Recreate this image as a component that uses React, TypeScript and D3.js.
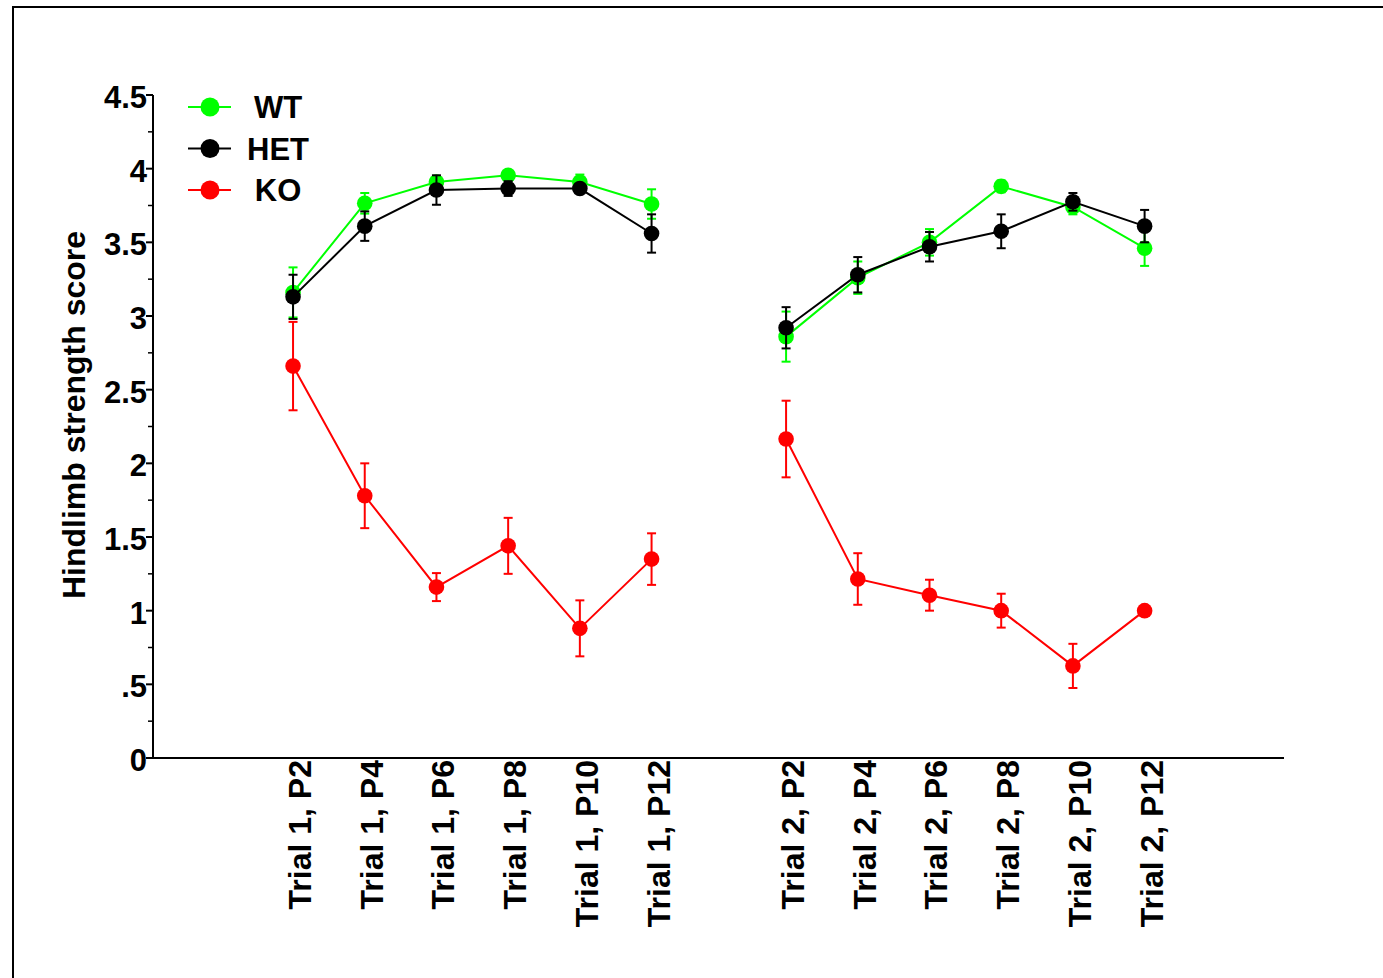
import React, { useEffect, useRef } from 'react';
import * as d3 from 'd3';

// categories along the x axis
const categories: string[] = [
  'Trial 1, P2', 'Trial 1, P4', 'Trial 1, P6', 'Trial 1, P8', 'Trial 1, P10', 'Trial 1, P12',
  'Trial 2, P2', 'Trial 2, P4', 'Trial 2, P6', 'Trial 2, P8', 'Trial 2, P10', 'Trial 2, P12',
];

// group means and SEM
const wtMean = [3.16, 3.765, 3.91, 3.955, 3.91, 3.76, 2.86, 3.26, 3.5, 3.88, 3.74, 3.46];
const wtSem = [0.17, 0.07, 0.03, 0.02, 0.05, 0.1, 0.17, 0.11, 0.09, 0.04, 0.05, 0.12];
const hetMean = [3.13, 3.61, 3.855, 3.865, 3.865, 3.56, 2.92, 3.28, 3.47, 3.575, 3.775, 3.61];
const hetSem = [0.15, 0.1, 0.1, 0.05, 0.03, 0.13, 0.14, 0.12, 0.1, 0.115, 0.06, 0.11];
const koMean = [2.66, 1.78, 1.16, 1.44, 0.88, 1.35, 2.165, 1.215, 1.105, 1.0, 0.625, 1.0];
const koSem = [0.3, 0.22, 0.095, 0.19, 0.19, 0.175, 0.26, 0.175, 0.105, 0.115, 0.15, 0];

const yTicks = [0, 0.5, 1, 1.5, 2, 2.5, 3, 3.5, 4, 4.5];
const yTickLabels = ['0', '.5', '1', '1.5', '2', '2.5', '3', '3.5', '4', '4.5'];
const yMinorTicks = d3.range(0.25, 4.5, 0.5);

const series = [
  { name: 'WT', mean: wtMean, sem: wtSem, color: '#00ff00' },
  { name: 'HET', mean: hetMean, sem: hetSem, color: '#000000' },
  { name: 'KO', mean: koMean, sem: koSem, color: '#ff0000' },
];

const W = 1383;
const H = 978;
const FONT = '"Liberation Sans", Arial, Helvetica, sans-serif';

export default function App() {
  const ref = useRef<SVGSVGElement>(null);

  useEffect(() => {
    const svg = d3.select(ref.current);
    svg.selectAll('*').remove();

    const left = 153, right = 1284, top = 95, bottom = 758;
    const gap = 0.876; // extra space between the two trials

    // index position of each category, trial 2 shifted right
    const pos = (i: number) => (i < 6 ? i : i + gap);
    const x = d3.scaleLinear().domain([-1.953, 13.82]).range([left, right]);
    const y = d3.scaleLinear().domain([0, 4.5]).range([bottom, top]);

    // frame
    svg.append('rect')
      .attr('x', 13).attr('y', 7)
      .attr('width', W).attr('height', H)
      .attr('fill', 'none').attr('stroke', '#000').attr('stroke-width', 2);

    // y axis
    const yAxis = svg.append('g');
    yAxis.append('line')
      .attr('x1', left).attr('x2', left)
      .attr('y1', y(4.5)).attr('y2', y(0))
      .attr('stroke', '#000').attr('stroke-width', 2);
    yAxis.selectAll('line.major').data(yTicks).join('line')
      .attr('class', 'major')
      .attr('x1', left - 7).attr('x2', left)
      .attr('y1', d => y(d)).attr('y2', d => y(d))
      .attr('stroke', '#000').attr('stroke-width', 2);
    yAxis.selectAll('line.minor').data(yMinorTicks).join('line')
      .attr('class', 'minor')
      .attr('x1', left - 5).attr('x2', left)
      .attr('y1', d => y(d)).attr('y2', d => y(d))
      .attr('stroke', '#000').attr('stroke-width', 1.5);
    yAxis.selectAll('text').data(yTicks).join('text')
      .attr('x', left - 6)
      .attr('y', d => y(d))
      .attr('dy', 13)
      .attr('text-anchor', 'end')
      .attr('font-family', FONT).attr('font-weight', 'bold').attr('font-size', 31)
      .text((d, i) => yTickLabels[i]);

    svg.append('text')
      .attr('transform', `translate(85, 415) rotate(-90)`)
      .attr('text-anchor', 'middle')
      .attr('font-family', FONT).attr('font-weight', 'bold').attr('font-size', 32)
      .text('Hindlimb strength score');

    // x axis
    svg.append('line')
      .attr('x1', left).attr('x2', right)
      .attr('y1', bottom).attr('y2', bottom)
      .attr('stroke', '#000').attr('stroke-width', 2);
    svg.append('g').selectAll('text').data(categories).join('text')
      .attr('transform', (d, i) => `translate(${x(pos(i)) + 18}, ${bottom + 2}) rotate(-90)`)
      .attr('text-anchor', 'end')
      .attr('font-family', FONT).attr('font-weight', 'bold').attr('font-size', 32)
      .text(d => d);

    // data, KO underneath
    const drawOrder = [series[2], series[0], series[1]];
    drawOrder.forEach(s => {
      const g = svg.append('g');
      const pts = s.mean.map((m, i) => ({ i, m, e: s.sem[i] }));
      const line = d3.line<{ i: number; m: number }>()
        .x(d => x(pos(d.i))).y(d => y(d.m));
      [pts.slice(0, 6), pts.slice(6)].forEach(seg => {
        g.append('path')
          .attr('d', line(seg))
          .attr('fill', 'none').attr('stroke', s.color).attr('stroke-width', 2);
      });
      const eb = g.selectAll('g.err').data(pts.filter(p => p.e > 0)).join('g').attr('class', 'err');
      eb.append('line')
        .attr('x1', d => x(pos(d.i))).attr('x2', d => x(pos(d.i)))
        .attr('y1', d => y(d.m - d.e)).attr('y2', d => y(d.m + d.e))
        .attr('stroke', s.color).attr('stroke-width', 2);
      [1, -1].forEach(sign => {
        eb.append('line')
          .attr('x1', d => x(pos(d.i)) - 4.5).attr('x2', d => x(pos(d.i)) + 4.5)
          .attr('y1', d => y(d.m + sign * d.e)).attr('y2', d => y(d.m + sign * d.e))
          .attr('stroke', s.color).attr('stroke-width', 2);
      });
      g.selectAll('circle').data(pts).join('circle')
        .attr('cx', d => x(pos(d.i))).attr('cy', d => y(d.m))
        .attr('r', 7.8).attr('fill', s.color);
    });

    // legend
    const legend = svg.append('g');
    series.forEach((s, k) => {
      const ly = 107 + k * 41.5;
      legend.append('line')
        .attr('x1', 188).attr('x2', 231).attr('y1', ly).attr('y2', ly)
        .attr('stroke', s.color).attr('stroke-width', 2);
      legend.append('circle')
        .attr('cx', 210).attr('cy', ly).attr('r', 9.5).attr('fill', s.color);
      legend.append('text')
        .attr('x', 278).attr('y', ly).attr('dy', 11)
        .attr('text-anchor', 'middle')
        .attr('font-family', FONT).attr('font-weight', 'bold').attr('font-size', 31)
        .text(s.name);
    });
  }, []);

  return (
    <svg
      ref={ref}
      width={W}
      height={H}
      style={{ position: 'absolute', left: 0, top: 0, background: '#fff' }}
    />
  );
}
